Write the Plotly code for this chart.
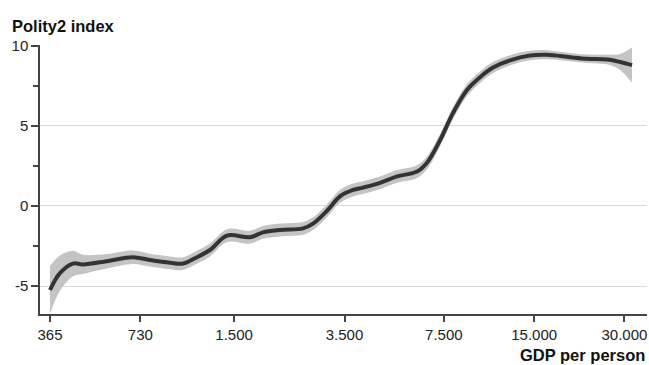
import plotly.graph_objects as go

gdp = [365, 394, 435, 470, 565, 690, 786, 917, 1013, 1128, 1246, 1420, 1694, 1872,
       2133, 2544, 2748, 3059, 3380, 3736, 4033, 4595, 5237, 6106, 6592, 7282, 8045,
       8960, 9902, 10943, 12465, 14531, 16560, 19754, 22506, 26244, 28992, 31792]
polity = [-5.25, -4.2, -3.6, -3.65, -3.45, -3.2, -3.38, -3.55, -3.6, -3.2, -2.75, -1.85,
          -1.95, -1.65, -1.5, -1.4, -1.1, -0.3, 0.6, 1.0, 1.15, 1.45, 1.85, 2.15, 2.7,
          4.1, 5.8, 7.25, 8.05, 8.65, 9.1, 9.4, 9.45, 9.3, 9.2, 9.15, 9.0, 8.8]
halfwidth = [1.5, 1.1, 0.8, 0.6, 0.45, 0.42, 0.4, 0.4, 0.4, 0.4, 0.4, 0.4,
             0.4, 0.4, 0.4, 0.4, 0.4, 0.4, 0.4, 0.4, 0.4, 0.4, 0.4, 0.4, 0.4,
             0.38, 0.38, 0.38, 0.36, 0.34, 0.32, 0.3, 0.28, 0.26, 0.26, 0.3, 0.5, 1.1]
upper = [p + h for p, h in zip(polity, halfwidth)]
lower = [p - h for p, h in zip(polity, halfwidth)]

xtickvals = [365, 730, 1500, 3500, 7500, 15000, 30000]
xticktext = ["365", "730", "1.500", "3.500", "7.500", "15.000", "30.000"]
ytickvals = [-5, 0, 5, 10]
yticktext = ["-5", "0", "5", "10"]
yminor = [-2.5, 2.5, 7.5]

font = "Liberation Sans, Arial, sans-serif"

fig = go.Figure()
fig.add_trace(go.Scatter(x=gdp, y=upper, mode="lines", line=dict(width=0, shape="spline", color="#c4c4c4"),
                         hoverinfo="skip", showlegend=False))
fig.add_trace(go.Scatter(x=gdp, y=lower, mode="lines", line=dict(width=0, shape="spline", color="#c4c4c4"),
                         fill="tonexty", fillcolor="#c4c4c4", hoverinfo="skip", showlegend=False))
fig.add_trace(go.Scatter(x=gdp, y=polity, mode="lines",
                         line=dict(width=4, shape="spline", color="#333333"), showlegend=False))

fig.update_layout(
    width=649, height=365,
    margin=dict(l=40, r=2, t=45, b=51),
    paper_bgcolor="white", plot_bgcolor="white",
    font=dict(family=font, size=15, color="#222222"),
    xaxis=dict(type="log", range=[2.529, 4.5523], tickvals=xtickvals, ticktext=xticktext,
               showgrid=False, zeroline=False, showline=True, linecolor="#444444", linewidth=1.5,
               ticks="outside", ticklen=6, tickcolor="#444444", tickwidth=1.5,
               tickfont=dict(size=15, color="#222222")),
    yaxis=dict(range=[-6.75, 10.06], tickvals=ytickvals, ticktext=yticktext,
               showgrid=True, gridcolor="#d9d9d9", gridwidth=1, zeroline=False,
               showline=True, linecolor="#444444", linewidth=1.5,
               ticks="outside", ticklen=7, tickcolor="#444444", tickwidth=1.5,
               tickfont=dict(size=15, color="#222222"),
               minor=dict(tickvals=yminor, ticks="outside", ticklen=5, tickcolor="#444444",
                          tickwidth=1.5, showgrid=False)),
    annotations=[
        dict(text="<b>Polity2 index</b>", xref="paper", yref="paper", x=0, y=1,
             yshift=19, xshift=-30, xanchor="left", yanchor="middle", showarrow=False,
             font=dict(family=font, size=16.5, color="#111111")),
        dict(text="<b>GDP per person</b>", xref="paper", yref="paper", x=1, y=0,
             yshift=-41, xshift=0, xanchor="right", yanchor="middle", showarrow=False,
             font=dict(family=font, size=16.5, color="#111111")),
    ],
)

fig.write_html("out.html", config={"displayModeBar": False},
               post_script="document.body.style.margin='0';document.body.style.overflow='hidden';")
